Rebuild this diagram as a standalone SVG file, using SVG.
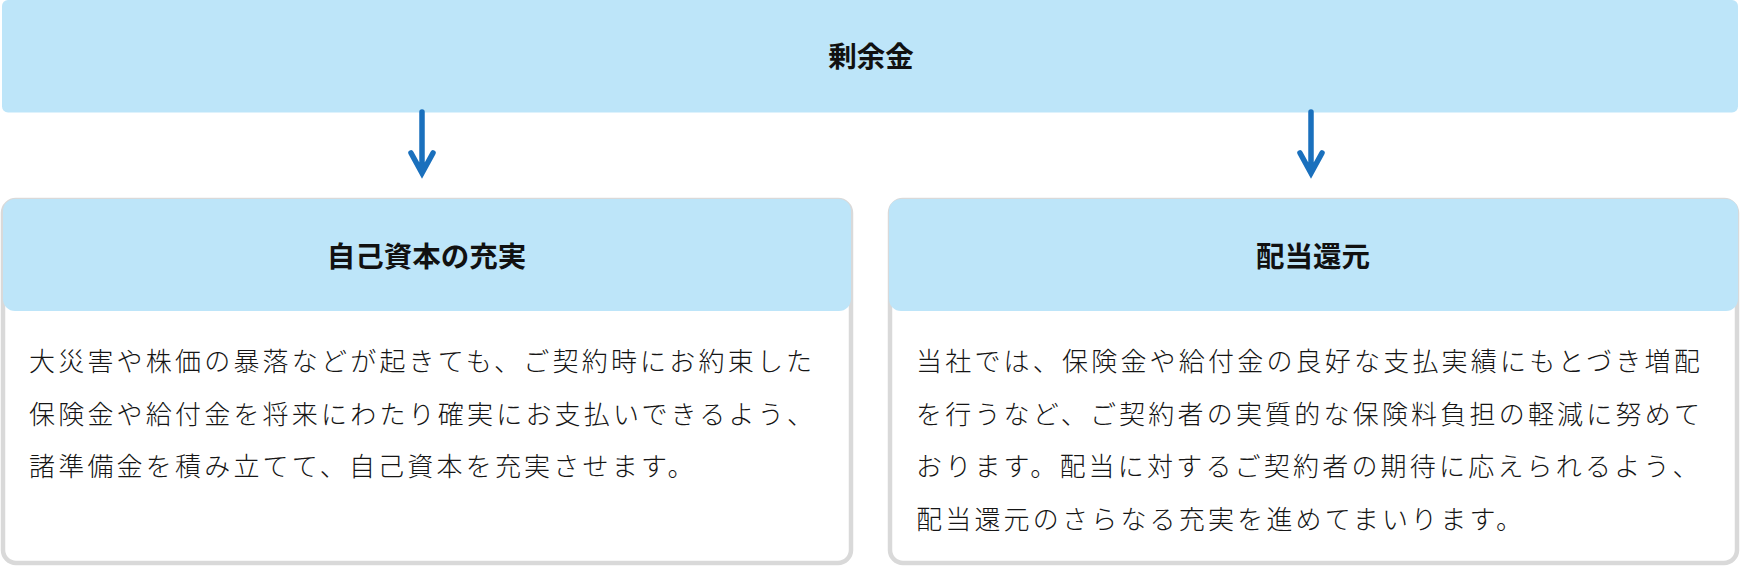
<svg xmlns="http://www.w3.org/2000/svg" width="1740" height="568" viewBox="0 0 1740 568">
<style>
.hdr{fill:#bde5f9}
.panel{fill:#ffffff;stroke:#d9d9d9;stroke-width:4.5}
.title{font-family:"Noto Sans CJK JP","Noto Sans CJK SC",sans-serif;font-weight:700;font-size:28.5px;fill:#111;text-anchor:middle}
.body{font-family:"Noto Sans CJK JP","Noto Sans CJK SC",sans-serif;font-weight:300;font-size:26px;letter-spacing:3.2px;fill:#151515}
.arrow{fill:none;stroke:#1a70bd;stroke-width:5.5;stroke-linecap:round;stroke-linejoin:miter}
</style>
<rect width="1740" height="568" fill="#ffffff"/>
<g id="node-surplus">
<rect class="hdr" x="2" y="0" width="1736" height="112.5" rx="6"/>
<text class="title" x="871" y="67">剰余金</text>
</g>
<g id="node-capital">
<rect class="panel" x="3" y="200" width="848" height="363" rx="13"/>
<rect class="hdr" x="3" y="199" width="848" height="112" rx="12"/>
<text class="title" x="426.5" y="267">自己資本の充実</text>
<text class="body" x="29">
<tspan x="29" y="371">大災害や株価の暴落などが起きても、ご契約時にお約束した</tspan>
<tspan x="29" y="423.5">保険金や給付金を将来にわたり確実にお支払いできるよう、</tspan>
<tspan x="29" y="476">諸準備金を積み立てて、自己資本を充実させます。</tspan>
</text>
</g>
<g id="node-dividend">
<rect class="panel" x="890" y="200" width="847" height="363" rx="13"/>
<rect class="hdr" x="889" y="199" width="849" height="112" rx="12"/>
<text class="title" x="1313" y="267">配当還元</text>
<text class="body" x="916">
<tspan x="916" y="371">当社では、保険金や給付金の良好な支払実績にもとづき増配</tspan>
<tspan x="916" y="423.5">を行うなど、ご契約者の実質的な保険料負担の軽減に努めて</tspan>
<tspan x="916" y="476">おります。配当に対するご契約者の期待に応えられるよう、</tspan>
<tspan x="916" y="528.5">配当還元のさらなる充実を進めてまいります。</tspan>
</text>
</g>
<g id="connectors">
<path class="arrow" d="M422,112 L422,172 M411,153 L422,173 L433,153"/>
<path class="arrow" d="M1311,112 L1311,172 M1300,153 L1311,173 L1322,153"/>
</g>
</svg>
